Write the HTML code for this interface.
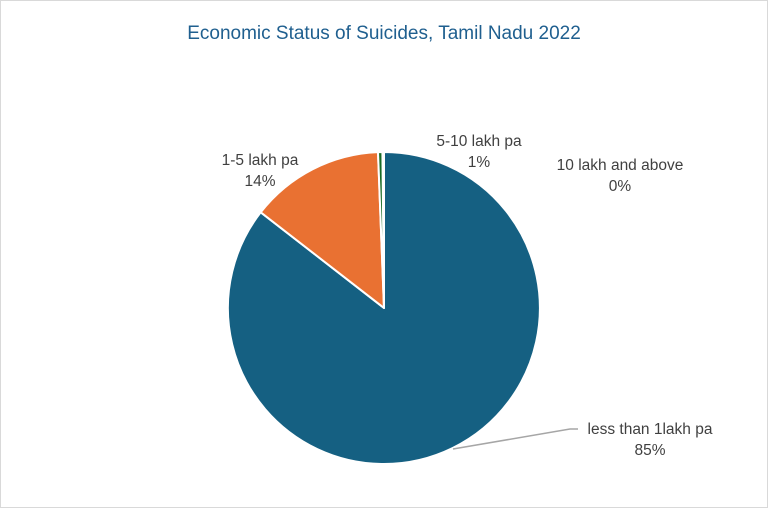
<!DOCTYPE html>
<html><head><style>
body{margin:0;background:#fff;}
.c{position:relative;width:766px;height:506px;border:1px solid #d9d9d9;font-family:"Liberation Sans",sans-serif;}
</style></head><body><div class="c">
<svg width="766" height="506" style="position:absolute;left:0;top:0" font-family="Liberation Sans, sans-serif">
<text x="383" y="38" text-anchor="middle" font-size="19" fill="#1f5f8f">Economic Status of Suicides, Tamil Nadu 2022</text>
<g transform="translate(-1,-1)" stroke="#fff" stroke-width="2" stroke-linejoin="round">
<path d="M384,308 L384,152 A156,156 0 1 1 260.7,212.3 Z" fill="#156082"/>
<path d="M384,308 L260.7,212.3 A156,156 0 0 1 378,152.1 Z" fill="#e97132"/>
<path d="M384,308 L378,152.1 A156,156 0 0 1 382.4,152 Z" fill="#196b24"/>
</g>
<polyline points="452,448 569,428 577,428" fill="none" stroke="#a6a6a6" stroke-width="1.5"/>
<g font-size="15.5" fill="#404040" text-anchor="middle">
<text x="649" y="433">less than 1lakh pa</text>
<text x="649" y="454">85%</text>
<text x="259" y="164">1-5 lakh pa</text>
<text x="259" y="185">14%</text>
<text x="478" y="145">5-10 lakh pa</text>
<text x="478" y="166">1%</text>
<text x="619" y="169">10 lakh and above</text>
<text x="619" y="190">0%</text>
</g>
</svg></div></body></html>
